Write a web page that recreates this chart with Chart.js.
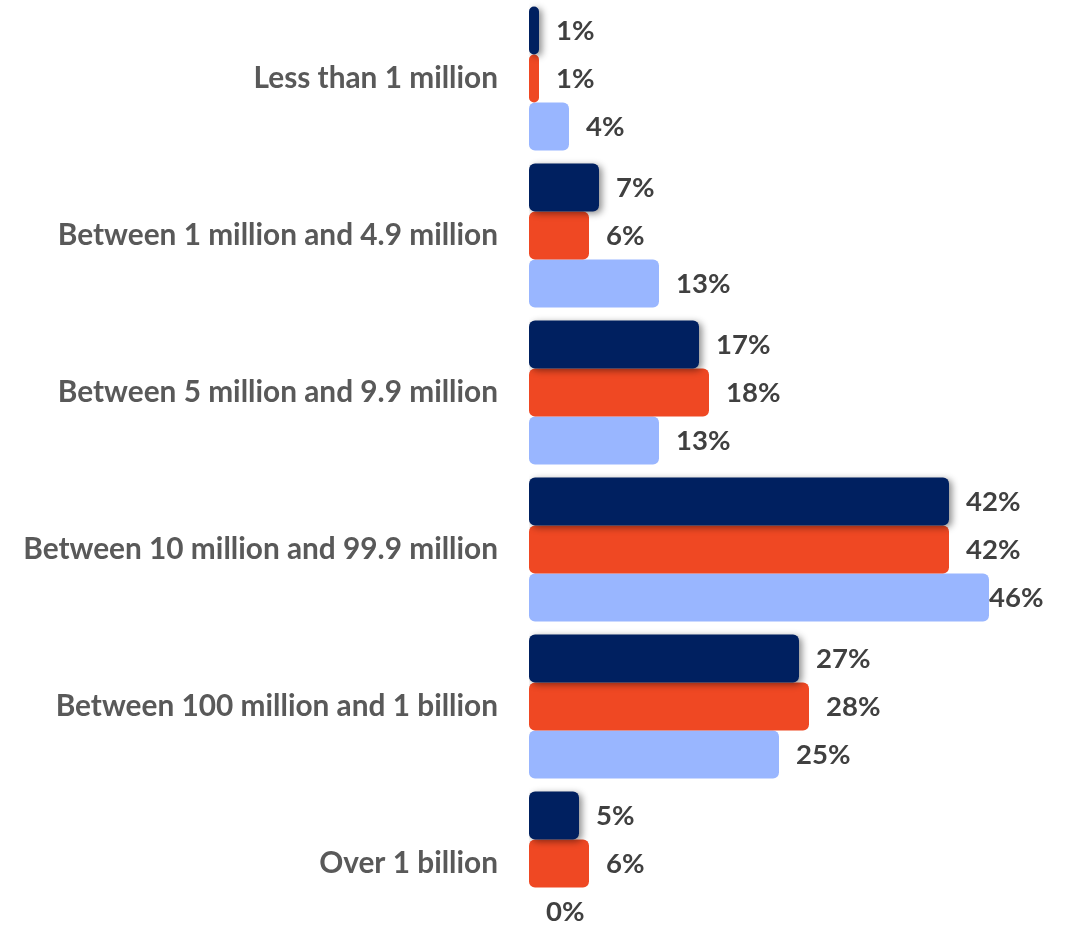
<!DOCTYPE html>
<html>
<head>
<meta charset="utf-8">
<script src="https://cdn.jsdelivr.net/npm/chart.js@4.4.1/dist/chart.umd.min.js"></script>
<style>
  html, body { margin: 0; padding: 0; background: #ffffff; overflow: hidden; }
  #wrap { width: 1071px; height: 942px; }
</style>
</head>
<body>
<div id="wrap"><canvas id="chart" width="1071" height="942"></canvas></div>
<script>
// Revenue bands and the share of respondents in each, by survey wave
const categories = [
  'Less than 1 million',
  'Between 1 million and 4.9 million',
  'Between 5 million and 9.9 million',
  'Between 10 million and 99.9 million',
  'Between 100 million and 1 billion',
  'Over 1 billion'
];
const seriesA = [1, 7, 17, 42, 27, 5];
const seriesB = [1, 6, 18, 42, 28, 6];
const seriesC = [4, 13, 13, 46, 25, 0];

const colors = ['#002060', '#EF4823', '#99B6FF'];
const FONT = 'Lato, "Open Sans", sans-serif';

// Soft drop shadow behind the first series
const shadowPlugin = {
  id: 'barShadow',
  beforeDatasetDraw(chart, args) {
    if (args.index !== 0) return;
    const ctx = chart.ctx;
    ctx.save();
    ctx.shadowColor = 'rgba(0,0,0,0.45)';
    ctx.shadowBlur = 7;
    ctx.shadowOffsetX = 3;
    ctx.shadowOffsetY = 2;
  },
  afterDatasetDraw(chart, args) {
    if (args.index !== 0) return;
    chart.ctx.restore();
  }
};

// Percentage labels to the right of each bar
const valueLabels = {
  id: 'valueLabels',
  afterDatasetsDraw(chart) {
    const ctx = chart.ctx;
    const limit = chart.chartArea.right - 26;
    ctx.save();
    ctx.font = 'bold 27.5px ' + FONT;
    ctx.fillStyle = '#404040';
    ctx.textBaseline = 'middle';
    ctx.textAlign = 'left';
    chart.data.datasets.forEach((ds, i) => {
      const meta = chart.getDatasetMeta(i);
      meta.data.forEach((bar, j) => {
        const txt = ds.data[j] + '%';
        const w = ctx.measureText(txt).width;
        let x = bar.x + 17;
        if (x + w > limit) x = Math.max(bar.x, limit - w);
        ctx.fillText(txt, x, bar.y + 1);
      });
    });
    ctx.restore();
  }
};

new Chart(document.getElementById('chart'), {
  type: 'bar',
  data: {
    labels: categories,
    datasets: [
      { label: 'A', data: seriesA, backgroundColor: colors[0] },
      { label: 'B', data: seriesB, backgroundColor: colors[1] },
      { label: 'C', data: seriesC, backgroundColor: colors[2] }
    ]
  },
  options: {
    indexAxis: 'y',
    responsive: false,
    animation: false,
    layout: { padding: { left: 0, right: 2, top: 0, bottom: 0 } },
    datasets: {
      bar: {
        categoryPercentage: 0.917,
        barPercentage: 1.0,
        borderRadius: 6,
        borderSkipped: false
      }
    },
    plugins: {
      legend: { display: false },
      tooltip: { enabled: false }
    },
    scales: {
      x: {
        display: false,
        min: 0,
        max: 54
      },
      y: {
        grid: { display: false },
        border: { display: false },
        afterFit(scale) {
          scale.width = 529;
          scale.paddingTop = 0;
          scale.paddingBottom = 0;
        },
        ticks: {
          padding: 23,
          color: '#595959',
          font: { family: FONT, size: 29.8, weight: 'bold' }
        }
      }
    }
  },
  plugins: [shadowPlugin, valueLabels]
});
</script>
</body>
</html>
